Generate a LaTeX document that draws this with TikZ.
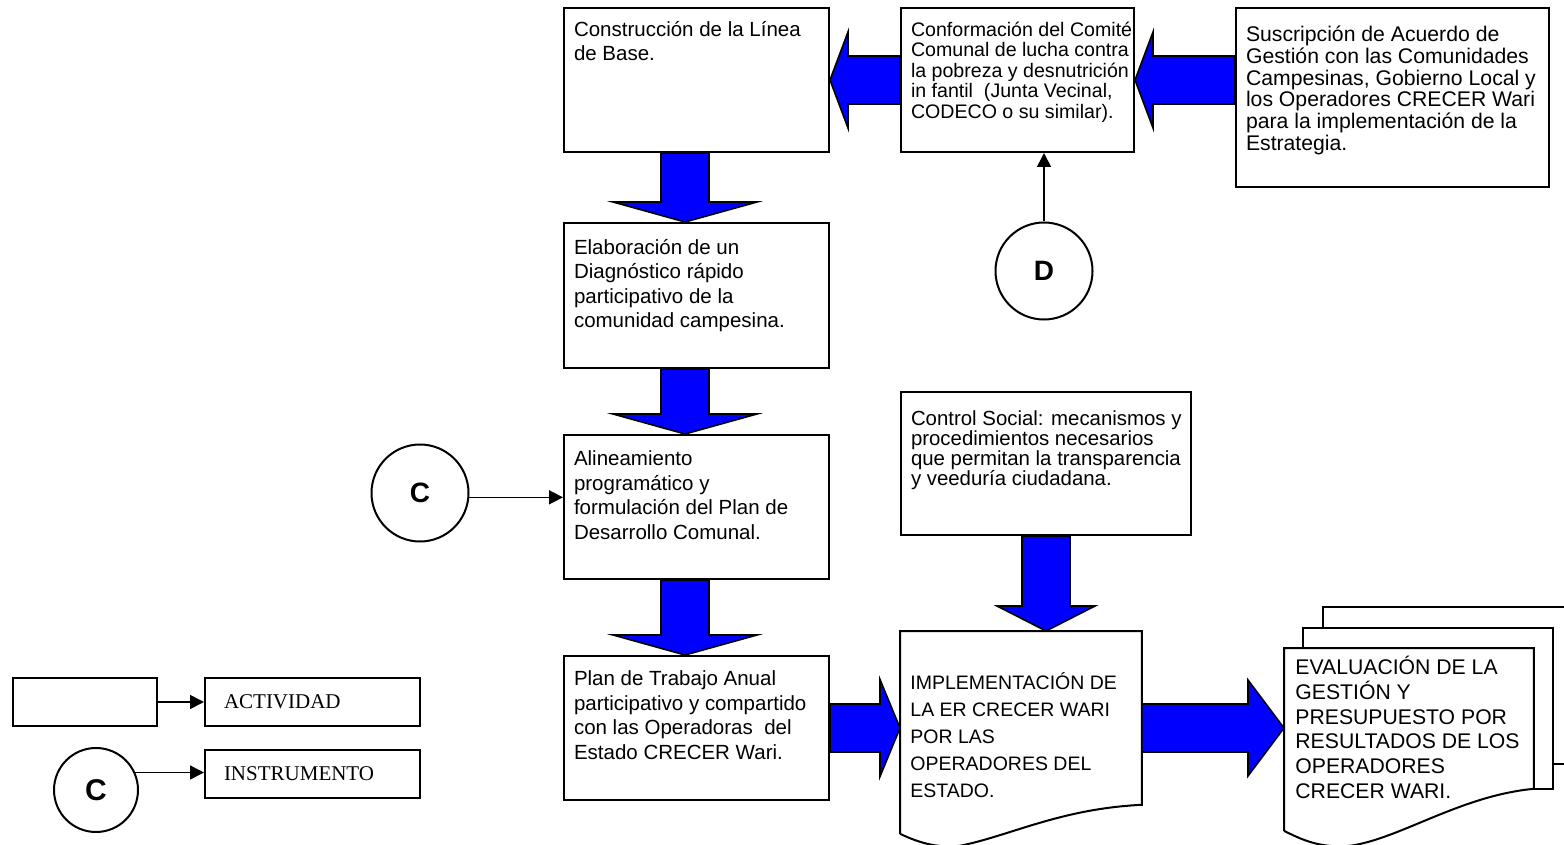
\documentclass[tikz,border=0pt]{standalone}
\usepackage{fontspec}
\setmainfont{Liberation Sans}
\newfontfamily\leyendafont{Liberation Serif}
\usetikzlibrary{calc,arrows.meta}
\definecolor{azulflecha}{RGB}{0,0,255}
\lineskiplimit=-\maxdimen
\newcommand{\cajatexto}[3]{\makebox[#1][l]{\parbox[t][#2][t]{300pt}{#3}}}

\begin{document}
\begin{tikzpicture}[x=0.5pt,y=-0.5pt,
		caja/.style={draw,line width=1pt,anchor=north west,inner xsep=5pt},
		doc/.style={anchor=north west,inner xsep=5pt,inner ysep=5pt},
		texto/.style={font=\fontsize{10.25}{12.25}\selectfont},
		flechota/.style={draw=black,line width=0.8pt,fill=azulflecha,line join=miter},
		flechita/.style={line width=0.8pt,-{Triangle[length=7pt,width=7pt]}},
		circulo/.style={draw,circle,line width=1pt,inner sep=0pt,minimum size=48.5pt,font=\fontsize{14}{14}\selectfont\bfseries},
		leyenda/.style={draw,line width=1pt,anchor=north west,minimum height=24pt,text width=88.5pt,inner xsep=9.5pt,align=left,font=\leyendafont\fontsize{10.5}{12}\selectfont}]
		\useasboundingbox (0,0) rectangle (1564,845);
		
		\node[caja,inner ysep=6.5pt,texto] (cons) at (563,7) {\cajatexto{122.5pt}{59pt}{Construcción de la Línea\\de Base.}};
		\node[caja,inner ysep=7pt,font=\fontsize{9.8}{10.2}\selectfont] (conf) at (900,7) {\cajatexto{106.5pt}{58pt}{Conformación del Comité\\Comunal de lucha contra\\la pobreza y desnutrición\\in fantil~ (Junta Vecinal,\\CODECO o su similar).}};
		\node[caja,inner ysep=9pt,font=\fontsize{10.6}{10.85}\selectfont] (susc) at (1235,7) {\cajatexto{146.5pt}{71.5pt}{Suscripción de Acuerdo de\\Gestión con las Comunidades\\Campesinas, Gobierno Local y\\los Operadores CRECER Wari\\para la implementación de la\\Estrategia.}};
		\node[caja,inner ysep=8pt,texto] (elab) at (563,222) {\cajatexto{122.5pt}{56.5pt}{Elaboración de un\\Diagnóstico rápido\\participativo de la\\comunidad campesina.}};
		\node[caja,inner ysep=8pt,texto] (alin) at (563,434) {\cajatexto{122.5pt}{56pt}{Alineamiento\\programático y\\formulación del Plan de\\Desarrollo Comunal.}};
		\node[caja,inner ysep=7.5pt,texto] (plan) at (563,655) {\cajatexto{122.5pt}{57pt}{Plan de Trabajo Anual\\participativo y compartido\\con las Operadoras~ del\\Estado CRECER Wari.}};
		\node[caja,inner ysep=9.5pt,font=\fontsize{10.2}{10}\selectfont] (ctrl) at (900,391) {\cajatexto{135pt}{52.5pt}{Control Social: mecanismos y\\procedimientos necesarios\\que permitan la transparencia\\y veeduría ciudadana.}};
		
		\node[doc,font=\fontsize{9.75}{13.5}\selectfont] (impl) at (900,631) {\cajatexto{110.5pt}{76.5pt}{\vspace*{15.5pt}IMPLEMENTACIÓN DE\\LA ER CRECER WARI\\POR LAS\\OPERADORES DEL\\ESTADO.}};
		\draw[line width=1pt] ($(impl.south west)+(0,29)$) -- (impl.north west) -- (impl.north east) -- (impl.south east)
			.. controls ($(impl.south west)+(160,4)$) and ($(impl.south west)+(110,31)$) .. ($(impl.south west)+(60,41)$)
			.. controls ($(impl.south west)+(35,44)$) and ($(impl.south west)+(15,36)$) .. ($(impl.south west)+(0,29)$);
		
		\node[doc,inner xsep=5.5pt,inner ysep=4pt,font=\fontsize{10.6}{12.35}\selectfont] (eval) at (1284,648) {\cajatexto{113.5pt}{62pt}{EVALUACIÓN DE LA\\GESTIÓN Y\\PRESUPUESTO POR\\RESULTADOS DE LOS\\OPERADORES\\CRECER WARI.}};
		\draw[line width=1pt] ($(eval.north west)+(39,-20)$) -- ++(0,-21) -- ($(eval.north east)+(39,-41)$) -- ($(eval.south east)+(39,-25)$) -- ($(eval.south east)+(19,-25)$);
		\draw[line width=1pt] ($(eval.north west)+(19,0)$) -- ++(0,-20) -- ($(eval.north east)+(19,-20)$) -- ($(eval.south east)+(19,0)$) -- (eval.south east);
		\draw[line width=1pt] ($(eval.south west)+(0,42)$) -- (eval.north west) -- (eval.north east) -- (eval.south east)
			.. controls ($(eval.south west)+(176,7)$) and ($(eval.south west)+(116,50)$) .. ($(eval.south west)+(66,57)$)
			.. controls ($(eval.south west)+(36,60)$) and ($(eval.south west)+(16,50)$) .. ($(eval.south west)+(0,42)$);
		
		\node[circulo] (cprin) at (420,493) {C};
		\node[circulo] (dcirc) at (1044,271) {D};
		
		\draw[flechota] (cons.east) -- ++(18,-48) -- ++(0,24) -- ($(conf.west)+(0,-24)$) -- ($(conf.west)+(0,24)$) -- ($(cons.east)+(18,24)$) -- ++(0,24) -- cycle;
		\draw[flechota] (conf.east) -- ++(18,-48) -- ++(0,24) -- ($(conf.east -| susc.west)+(0,-24)$) -- ($(conf.east -| susc.west)+(0,24)$) -- ($(conf.east)+(18,24)$) -- ++(0,24) -- cycle;
		\draw[flechota] ($(cons.south)+(-35.5,0)$) -- ($(elab.north)+(-35.5,-20)$) -- ++(-48,0) -- ($(elab.north)+(-11.5,0)$) -- ($(elab.north)+(60.5,-20)$) -- ++(-48,0) -- ($(cons.south)+(12.5,0)$) -- cycle;
		\draw[flechota] ($(elab.south)+(-35.5,0)$) -- ($(alin.north)+(-35.5,-20)$) -- ++(-48,0) -- ($(alin.north)+(-11.5,0)$) -- ($(alin.north)+(60.5,-20)$) -- ++(-48,0) -- ($(elab.south)+(12.5,0)$) -- cycle;
		\draw[flechota] ($(alin.south)+(-35.5,0)$) -- ($(plan.north)+(-35.5,-20)$) -- ++(-48,0) -- ($(plan.north)+(-11.5,0)$) -- ($(plan.north)+(60.5,-20)$) -- ++(-48,0) -- ($(alin.south)+(12.5,0)$) -- cycle;
		\draw[flechota] ($(plan.east)+(0,-24)$) -- ($(plan.east -| impl.west)+(-20,-24)$) -- ++(0,-24.5) -- (plan.east -| impl.west) -- ++(-20,48.5) -- ++(0,-24.5) -- ($(plan.east)+(0,24)$) -- cycle;
		\draw[flechota] ($(plan.east -| impl.east)+(0,-24)$) -- ($(plan.east -| eval.west)+(-36,-24)$) -- ++(0,-24) -- (plan.east -| eval.west) -- ++(-36,48) -- ++(0,-24) -- ($(plan.east -| impl.east)+(0,24)$) -- cycle;
		\draw[flechota] ($(ctrl.south)+(-24,0)$) -- ($(ctrl.south |- impl.north)+(-24,-25)$) -- ++(-25,0) -- (ctrl.south |- impl.north) -- ++(49,-25) -- ++(-25,0) -- ($(ctrl.south)+(24,0)$) -- cycle;
		
		\draw[flechita] (dcirc.north) -- (dcirc.north |- conf.south);
		\draw[flechita] (cprin.-5) -- (cprin.-5 -| alin.west);
		
		\node[draw,line width=1pt,anchor=north west,minimum width=72pt,minimum height=24pt] (blanco) at (12,677) {};
		\node[leyenda] (activ) at (204,677) {ACTIVIDAD};
		\node[leyenda] (instr) at (204,749) {INSTRUMENTO};
		\node[circulo,minimum size=42pt,font=\fontsize{15}{15}\selectfont\bfseries] (cley) at (96,790) {C};
		\draw[flechita] (blanco) -- (activ);
		\draw[flechita] (cley.24) -- (cley.24 -| instr.west);
	\end{tikzpicture}
\end{document}
